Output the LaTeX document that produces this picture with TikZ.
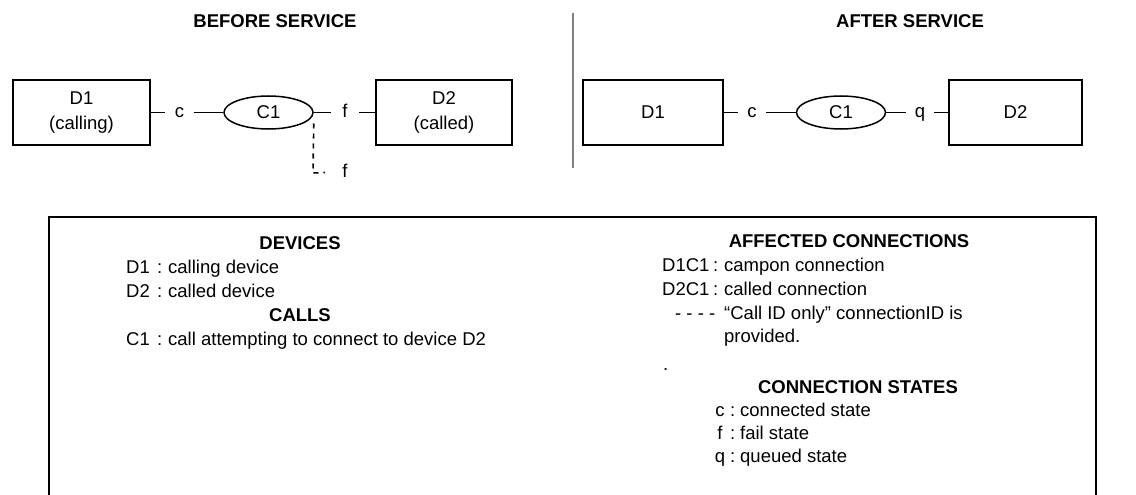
\documentclass[tikz,border=0pt]{standalone}
\usepackage{fontspec}
\setmainfont{Liberation Sans}
\usetikzlibrary{shapes.geometric}
\begin{document}
\begin{tikzpicture}[x=1pt,y=-1pt,
  every node/.style={font=\fontsize{18.5}{25}\selectfont, inner sep=0pt},
  dev/.style={draw, line width=1.9pt, minimum height=65pt, align=center},
  callnode/.style={draw, ellipse, line width=1.5pt, minimum width=89pt, minimum height=33pt},
  st/.style={minimum width=28pt, text height=9.6pt, text depth=0pt},
  conn/.style={line width=1.8pt},
  fail/.style={line width=1.6pt, dash pattern=on 5pt off 5pt},
  ttl/.style={font=\fontsize{18.5}{22}\selectfont\bfseries, anchor=base},
  hd/.style={font=\fontsize{18.5}{22}\selectfont\bfseries, anchor=base},
  txt/.style={anchor=base west},
  sep/.style={draw=gray, line width=2pt}
]
\useasboundingbox (0,0) rectangle (1136,495);

% titles
\node[ttl] (tb) at (275,28) {BEFORE SERVICE};
\node[ttl] (ta) at (910,28) {AFTER SERVICE};

% separator
\coordinate (s1) at (573,13);
\coordinate (s2) at (573,168);
\draw[sep] (s1) -- (s2);

% before service
\node[dev, minimum width=137pt] (bd1) at (81.5,112.5) {D1\\(calling)};
\node[st] (bc) at (179.5,112.5) {c};
\node[callnode] (bc1) at (268.5,112.5) {C1};
\node[st] (bf) at (345,112.5) {f};
\node[dev, minimum width=136pt] (bd2) at (444,112.5) {D2\\(called)};
\draw[conn] (bd1) -- (bc);
\draw[conn] (bc) -- (bc1);
\draw[conn] (bc1) -- (bf);
\draw[conn] (bf) -- (bd2);
\node[st, minimum width=40pt] (bf2) at (345,172.5) {f};
\coordinate (dk) at (313,173);
\draw[fail] ([yshift=-11pt]bc1.east) -- (dk) -- (bf2.west);

% after service
\node[dev, minimum width=140pt] (ad1) at (653,112.5) {D1};
\node[st] (ac) at (752,112.5) {c};
\node[callnode] (ac1) at (841,112.5) {C1};
\node[st] (aq) at (920,112.5) {q};
\node[dev, minimum width=133pt] (ad2) at (1015.5,112.5) {D2};
\draw[conn] (ad1) -- (ac);
\draw[conn] (ac) -- (ac1);
\draw[conn] (ac1) -- (aq);
\draw[conn] (aq) -- (ad2);

% legend box
\draw[line width=1.9pt] (49,217) rectangle (1096,530);

% left column
\node[hd] (hdev) at (300,249) {DEVICES};
\node[txt] (k1) at (126,273) {D1};
\node[txt] (c1) at (157,273) {:};
\node[txt] (t1) at (168,273) {calling device};
\node[txt] (k2) at (126,297) {D2};
\node[txt] (c2) at (157,297) {:};
\node[txt] (t2) at (168,297) {called device};
\node[hd] (hcalls) at (300,321) {CALLS};
\node[txt] (k3) at (126,345) {C1};
\node[txt] (c3) at (157,345) {:};
\node[txt] (t3) at (168,345) {call attempting to connect to device D2};

% right column
\node[hd] (haff) at (849,247) {AFFECTED CONNECTIONS};
\node[txt] (k4) at (662,271) {D1C1};
\node[txt] (c4) at (713,271) {:};
\node[txt] (t4) at (724,271) {campon connection};
\node[txt] (k5) at (662,295) {D2C1};
\node[txt] (c5) at (713,295) {:};
\node[txt] (t5) at (724,295) {called connection};
\node[txt] (k6) at (675,319) {- - - -};
\node[txt] (t6) at (724,319) {“Call ID only” connectionID is};
\node[txt] (t7) at (724,342) {provided.};
\node[txt] (dot) at (663,370) {.};
\node[hd] (hst) at (858,393) {CONNECTION STATES};
\node[anchor=base] (k8) at (720,416) {c};
\node[txt] (c8) at (730,416) {:};
\node[txt] (t8) at (740,416) {connected state};
\node[anchor=base] (k9) at (720,439) {f};
\node[txt] (c9) at (730,439) {:};
\node[txt] (t9) at (740,439) {fail state};
\node[anchor=base] (k10) at (720,462) {q};
\node[txt] (c10) at (730,462) {:};
\node[txt] (t10) at (740,462) {queued state};
\end{tikzpicture}
\end{document}
